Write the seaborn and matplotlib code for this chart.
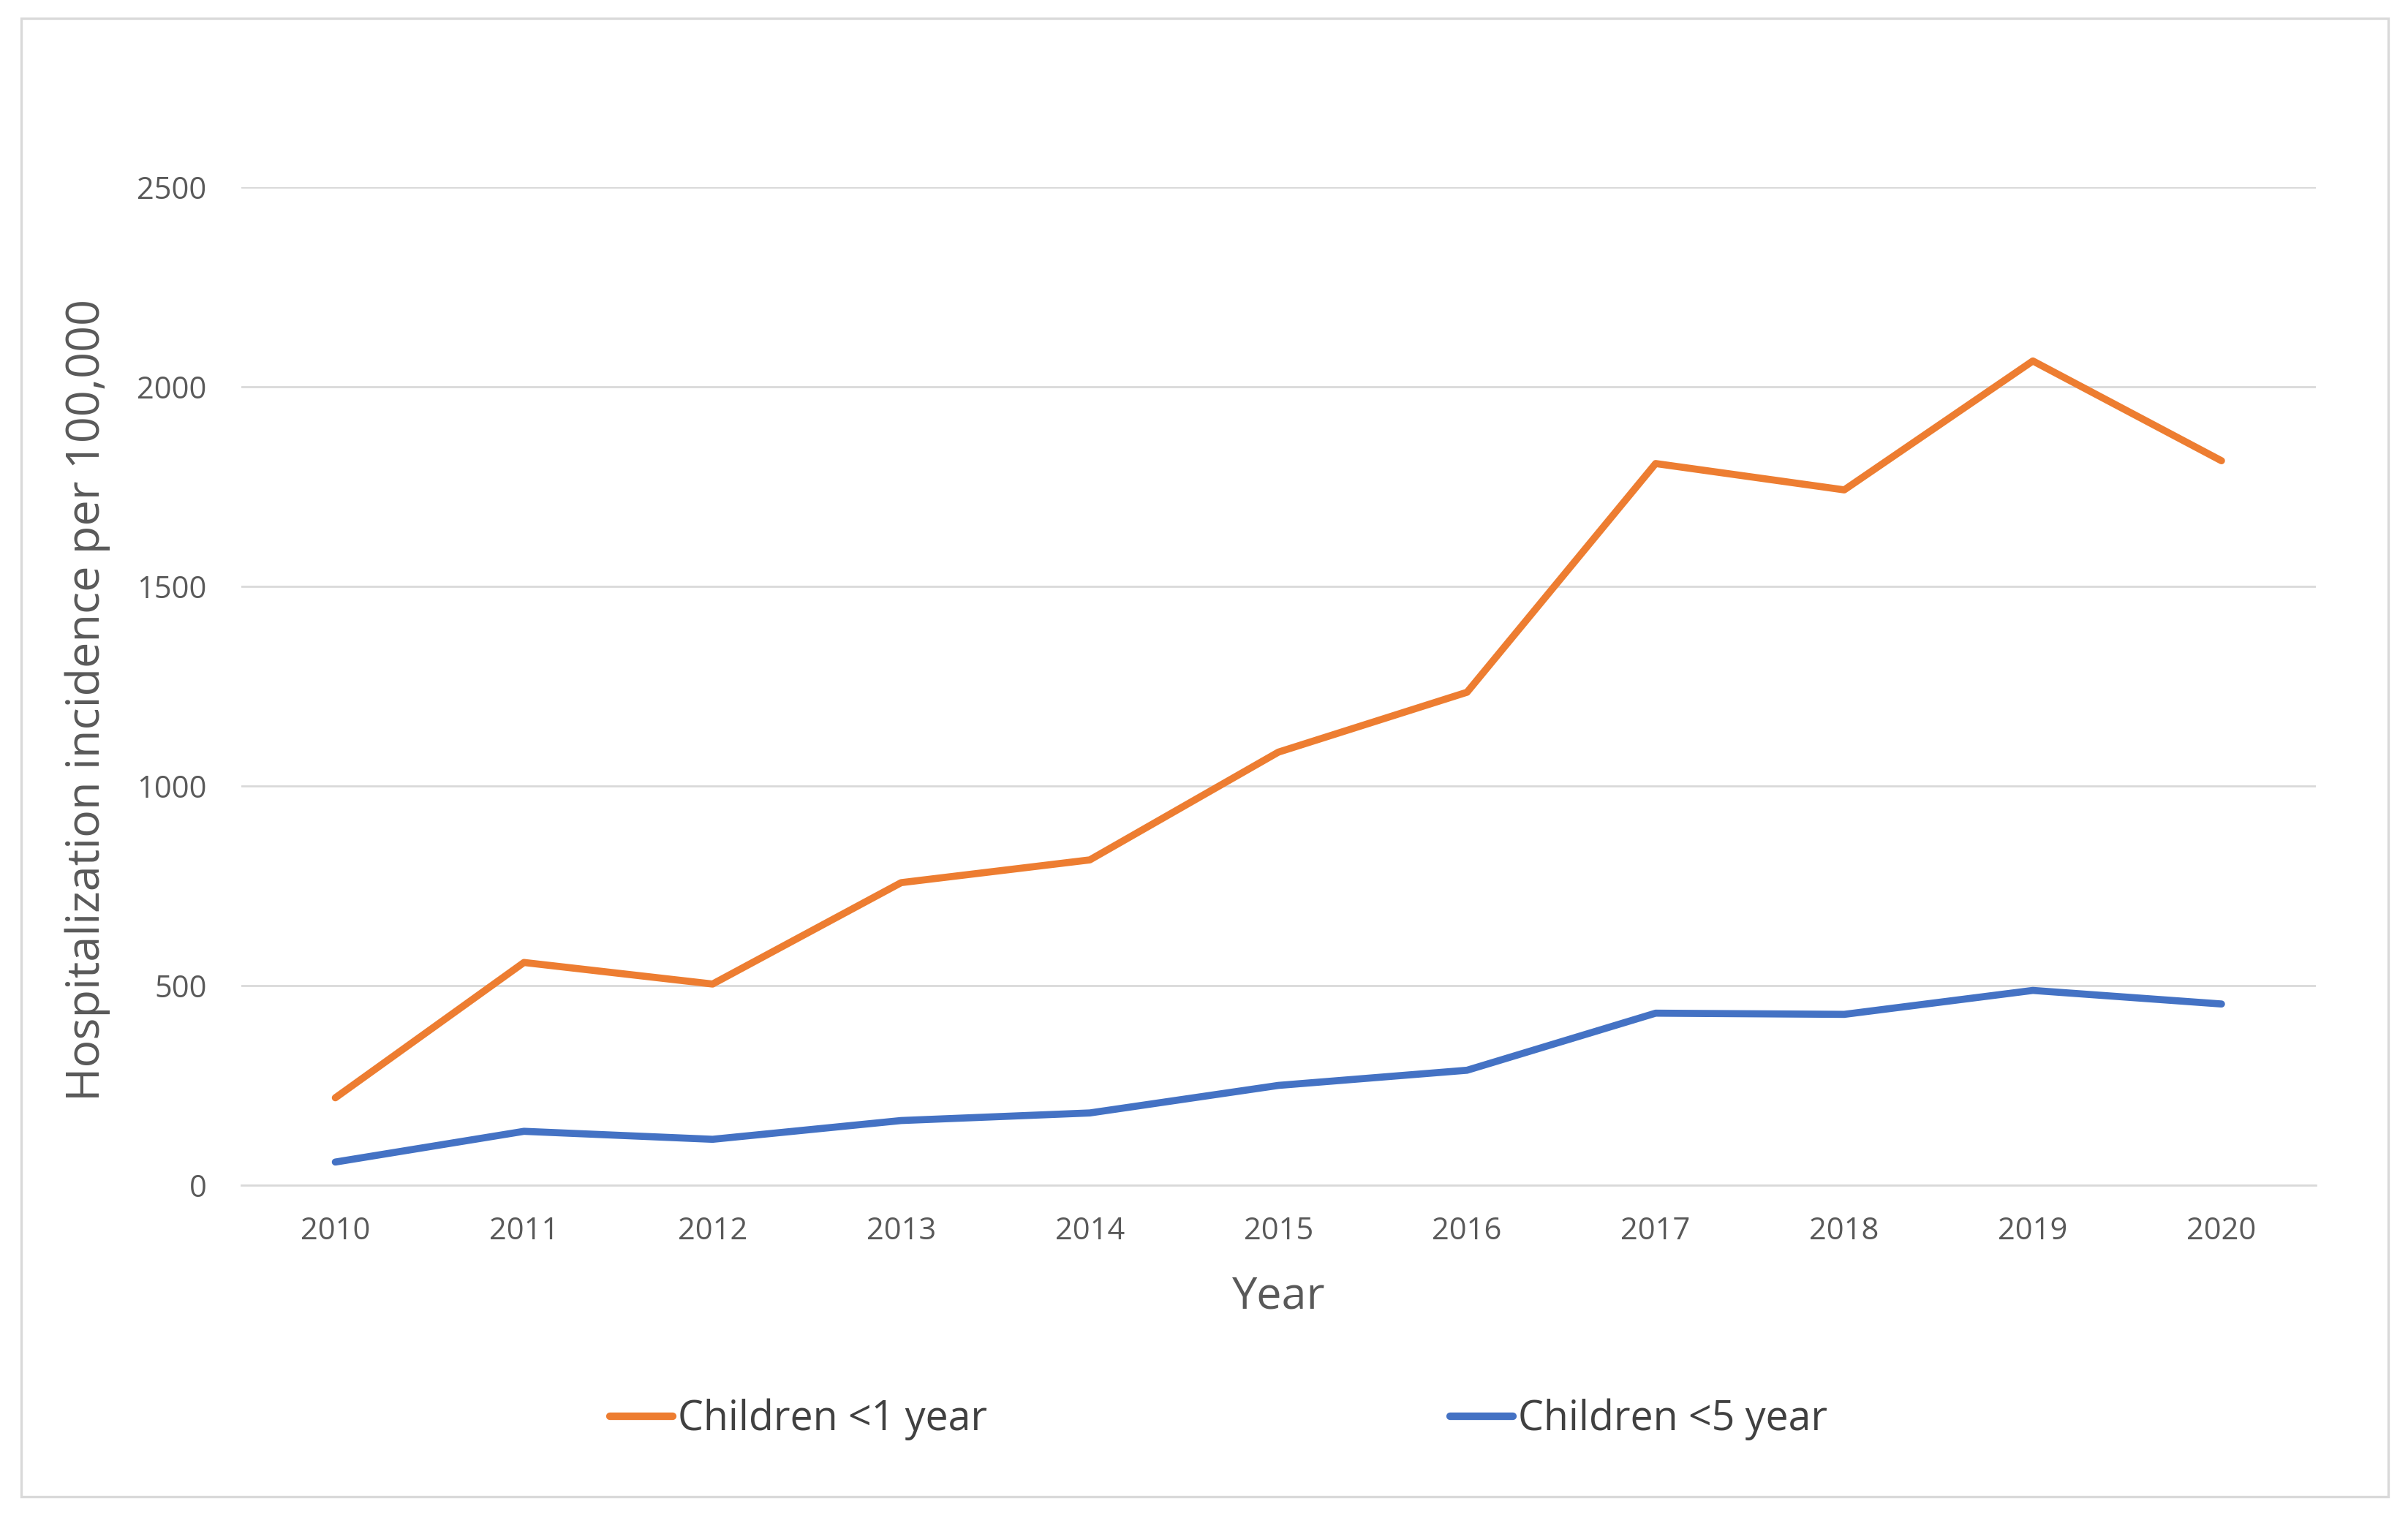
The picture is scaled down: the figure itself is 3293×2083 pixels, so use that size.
import matplotlib
matplotlib.use("Agg")
import matplotlib.pyplot as plt
import seaborn as sns
import pandas as pd
from matplotlib.patches import Rectangle

years = [2010, 2011, 2012, 2013, 2014, 2015, 2016, 2017, 2018, 2019, 2020]
under1 = [219, 558, 504, 758, 815, 1085, 1235, 1808, 1742, 2065, 1815]
under5 = [58, 135, 115, 162, 181, 250, 288, 431, 428, 488, 454]
series_names = ["Children <1 year", "Children <5 year"]
yticks = [0, 500, 1000, 1500, 2000, 2500]

df = pd.DataFrame({
    "Year": years * 2,
    "value": under1 + under5,
    "series": [series_names[0]] * len(years) + [series_names[1]] * len(years),
})

sns.set_theme(style="white")
plt.rcParams['font.family'] = ['Open Sans', 'DejaVu Sans']

fig = plt.figure(figsize=(3293 / 200, 2083 / 200), dpi=200)
ax = fig.add_axes([0.1001, 0.2218, 0.8616, 0.6552])

palette = {series_names[0]: "#ED7D31", series_names[1]: "#4472C4"}
sns.lineplot(data=df, x="Year", y="value", hue="series", palette=palette,
             linewidth=3.5, ax=ax, legend=True)

ax.set_xlim(2009.5, 2020.5)
ax.set_ylim(0, 2500)
ax.set_yticks(yticks)
ax.set_xticks(years)
ax.set_xticklabels([str(y) for y in years])
ax.yaxis.grid(True, color="#D9D9D9", linewidth=1.0)
ax.set_axisbelow(True)
for s in ["top", "right", "left"]:
    ax.spines[s].set_visible(False)
ax.spines["bottom"].set_color("#D9D9D9")
ax.spines["bottom"].set_linewidth(1.0)
ax.tick_params(axis="both", length=0, labelsize=15, colors="#595959")
ax.tick_params(axis="y", pad=17)
ax.tick_params(axis="x", pad=15)

ax.set_xlabel("Year", fontsize=22, color="#595959", labelpad=14)
ax.set_ylabel("Hospitalization incidence per 100,000", fontsize=22.7,
              color="#595959")
ax.yaxis.set_label_coords(-0.063, 0.486)

handles, labels = ax.get_legend_handles_labels()
ax.get_legend().remove()
leg = fig.legend(handles, labels, loc="center", bbox_to_anchor=(0.506, 0.068),
                 ncol=2, frameon=False, fontsize=20, handlelength=1.55,
                 handletextpad=0.12, columnspacing=11.4)
for t in leg.get_texts():
    t.set_color("#404040")
for l in leg.get_lines():
    l.set_linewidth(3.7)

fig.patches.append(Rectangle((14 / 1568, 1 - 975 / 992), (1555 - 14) / 1568,
                             (975 - 12) / 992, transform=fig.transFigure,
                             fill=False, edgecolor="#D9D9D9", linewidth=1.2))

fig.savefig("out.png", dpi=200, facecolor="white")
